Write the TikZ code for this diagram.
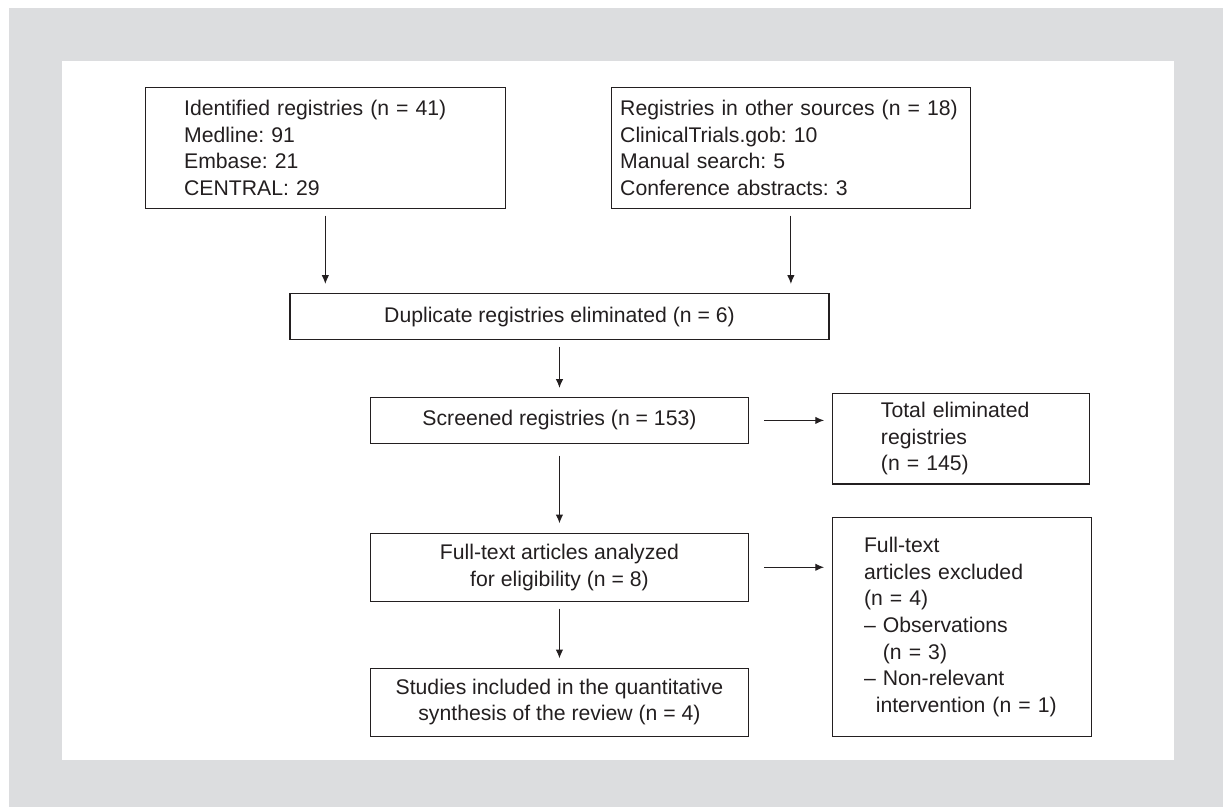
\documentclass[tikz,border=0pt]{standalone}
\usepackage{fontspec}
\setmainfont{Liberation Sans}
\usepackage{xcolor}
\usetikzlibrary{arrows.meta, positioning}

\definecolor{framegray}{HTML}{DCDDDF}
\definecolor{inkgray}{HTML}{231F20}
\frenchspacing

\begin{document}
\begin{tikzpicture}[x=1pt, y=1pt,
  box/.style={rectangle, draw=inkgray, line width=0.8pt, text=inkgray, align=center, inner sep=0pt, font=\fontsize{15.9}{20}\selectfont},
  listbox/.style={box, align=left},
  arrow/.style={-{Latex[length=6.5pt, width=5.5pt]}, draw=inkgray, line width=0.7pt, shorten <=5pt, shorten >=7pt}
]

% Background
\useasboundingbox (0,0) rectangle (917.25,-605.25);
\fill[framegray] (6.75,-6) rectangle (917.25,-605.25);
\fill[white] (46.5,-45.75) rectangle (880.5,-570);

% Nodes
\node[listbox, text width=211.8pt, inner xsep=28.9pt, minimum height=90.75pt] (ident) at (244,-110.85) {Identified registries (n = 41)\\ Medline: 91\\ Embase: 21\\ CENTRAL: 29};
\node[listbox, text width=256pt, inner xsep=6.8pt, minimum height=90.75pt, right=78.75pt of ident] (other) {Registries in other sources (n = 18)\\ ClinicalTrials.gob: 10\\ Manual search: 5\\ Conference abstracts: 3};
\node[box, minimum width=404.25pt, minimum height=34.2pt] (dup) at (419.6,-237.4) {Duplicate registries eliminated (n = 6)};
\node[box, minimum width=284pt, minimum height=34pt, below=43pt of dup] (screen) {Screened registries (n = 153)};
\node[listbox, text width=120.4pt, inner xsep=36.3pt, minimum height=68pt, right=62pt of screen, yshift=-13.7pt] (totalout) {Total eliminated\\ registries\\ (n = 145)};
\node[box, minimum width=284pt, minimum height=51.2pt, below=66.75pt of screen] (fulltext) {Full-text articles analyzed\\ for eligibility (n = 8)};
\node[listbox, text width=147pt, inner xsep=23.6pt, minimum height=163.7pt, right=62pt of fulltext, yshift=-44.75pt] (excluded) {Full-text\\ articles excluded\\ (n = 4)\\ -- Observations\\ \phantom{-- }(n = 3)\\ -- Non-relevant\\ \phantom{--}intervention (n = 1)};
\node[box, minimum width=284pt, minimum height=51pt, below=49.25pt of fulltext] (studies) {Studies included in the quantitative\\ synthesis of the review (n = 4)};

% Arrows
\draw[arrow] (ident.south) -- (ident.south |- dup.north);
\draw[arrow] (other.south) -- (other.south |- dup.north);
\draw[arrow] (dup) -- (screen);
\draw[arrow, shorten <=9pt] (screen) -- (fulltext);
\draw[arrow] (fulltext) -- (studies);
\draw[arrow, shorten <=11pt, shorten >=6pt] (screen.east) -- (screen.east -| totalout.west);
\draw[arrow, shorten <=11pt, shorten >=6pt] (fulltext.east) -- (fulltext.east -| excluded.west);

\end{tikzpicture}
\end{document}
